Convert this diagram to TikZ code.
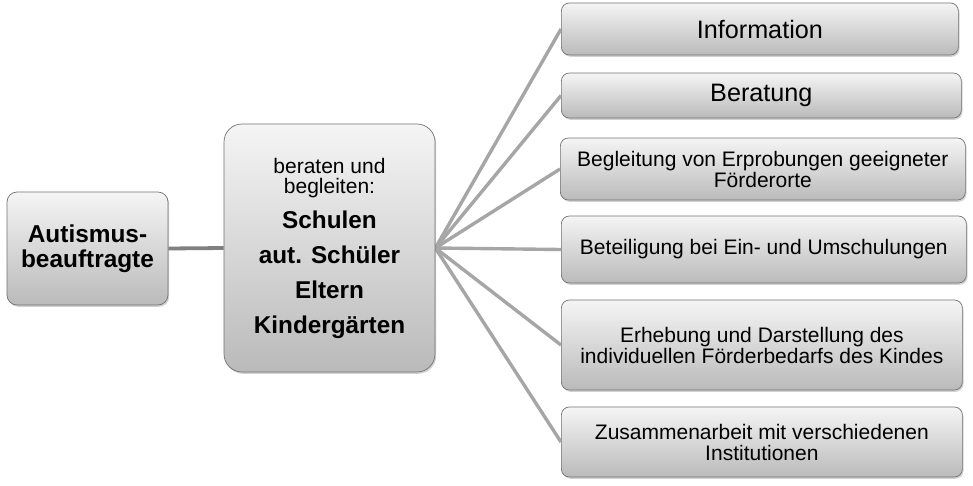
\documentclass[tikz,border=0pt]{standalone}
\usepackage{fontspec}
\setmainfont{Liberation Sans}
\usetikzlibrary{shadows}
\usetikzlibrary{backgrounds}
\setlength{\lineskiplimit}{-50pt}

\begin{document}
\begin{tikzpicture}[x=1pt,y=-1pt,
		kasten/.style={draw=black!55, line width=0.7pt, top color=black!4, bottom color=black!27, align=center, inner sep=2pt,
			drop shadow={shadow xshift=1.2pt,shadow yshift=-1.8pt,opacity=0.35}},
		punkt/.style={kasten, anchor=west, rounded corners=8pt, font=\fontsize{21}{21}\selectfont},
		ast/.style={draw=black!50, line width=3.8pt},
		zweig/.style={draw=black!35, line width=3.4pt}]
		
		% linke Seite
		\node[kasten, rounded corners=10pt, minimum width=161pt, minimum height=113pt, font=\fontsize{24.4}{24.5}\selectfont\bfseries] (auti) at (87.5,248.5) {Autismus-\\beauftragte};
		
		\node[kasten, rounded corners=18pt, minimum width=211pt, minimum height=248pt, font=\fontsize{21}{35}\selectfont] (berat) at (329.5,248)
		{beraten und\\[-15pt]begleiten:\\
			\fontsize{24.3}{35}\selectfont\bfseries Schulen\\
			\fontsize{24.3}{35}\selectfont\bfseries aut. Schüler\\
			\fontsize{24.3}{35}\selectfont\bfseries Eltern\\
			\fontsize{24.3}{35}\selectfont\bfseries Kindergärten};
		
		% rechte Seite
		\node[punkt, minimum width=397pt, minimum height=52pt, font=\fontsize{25.2}{25}\selectfont] (info) at (561,29) {Information};
		\node[punkt, minimum width=400pt, minimum height=45pt, font=\fontsize{25.2}{25}\selectfont] (berat2) at (561,95.5) {Beratung};
		\node[punkt, minimum width=405pt, minimum height=62pt] (erprob) at (560,169) {Begleitung von Erprobungen geeigneter\\Förderorte};
		\node[punkt, minimum width=405pt, minimum height=67pt] (umsch) at (561,249.5) {Beteiligung bei Ein- und Umschulungen};
		\node[punkt, minimum width=401pt, minimum height=90pt] (bedarf) at (561,345) {Erhebung und Darstellung des\\individuellen Förderbedarfs des Kindes};
		\node[punkt, minimum width=401pt, minimum height=70pt] (instit) at (561,442) {Zusammenarbeit mit verschiedenen\\Institutionen};
		
		\begin{scope}[on background layer]
			\fill[white] (0,0) rectangle (973,485);
			
			\draw[ast] (auti.east) -- (berat.west);
			
			\draw[zweig] (berat.east) -- (info.west);
			\draw[zweig] (berat.east) -- (berat2.west);
			\draw[zweig] (berat.east) -- (erprob.west);
			\draw[zweig] (berat.east) -- (umsch.west);
			\draw[zweig] (berat.east) -- (bedarf.west);
			\draw[zweig] (berat.east) -- (instit.west);
		\end{scope}
	\end{tikzpicture}
\end{document}
